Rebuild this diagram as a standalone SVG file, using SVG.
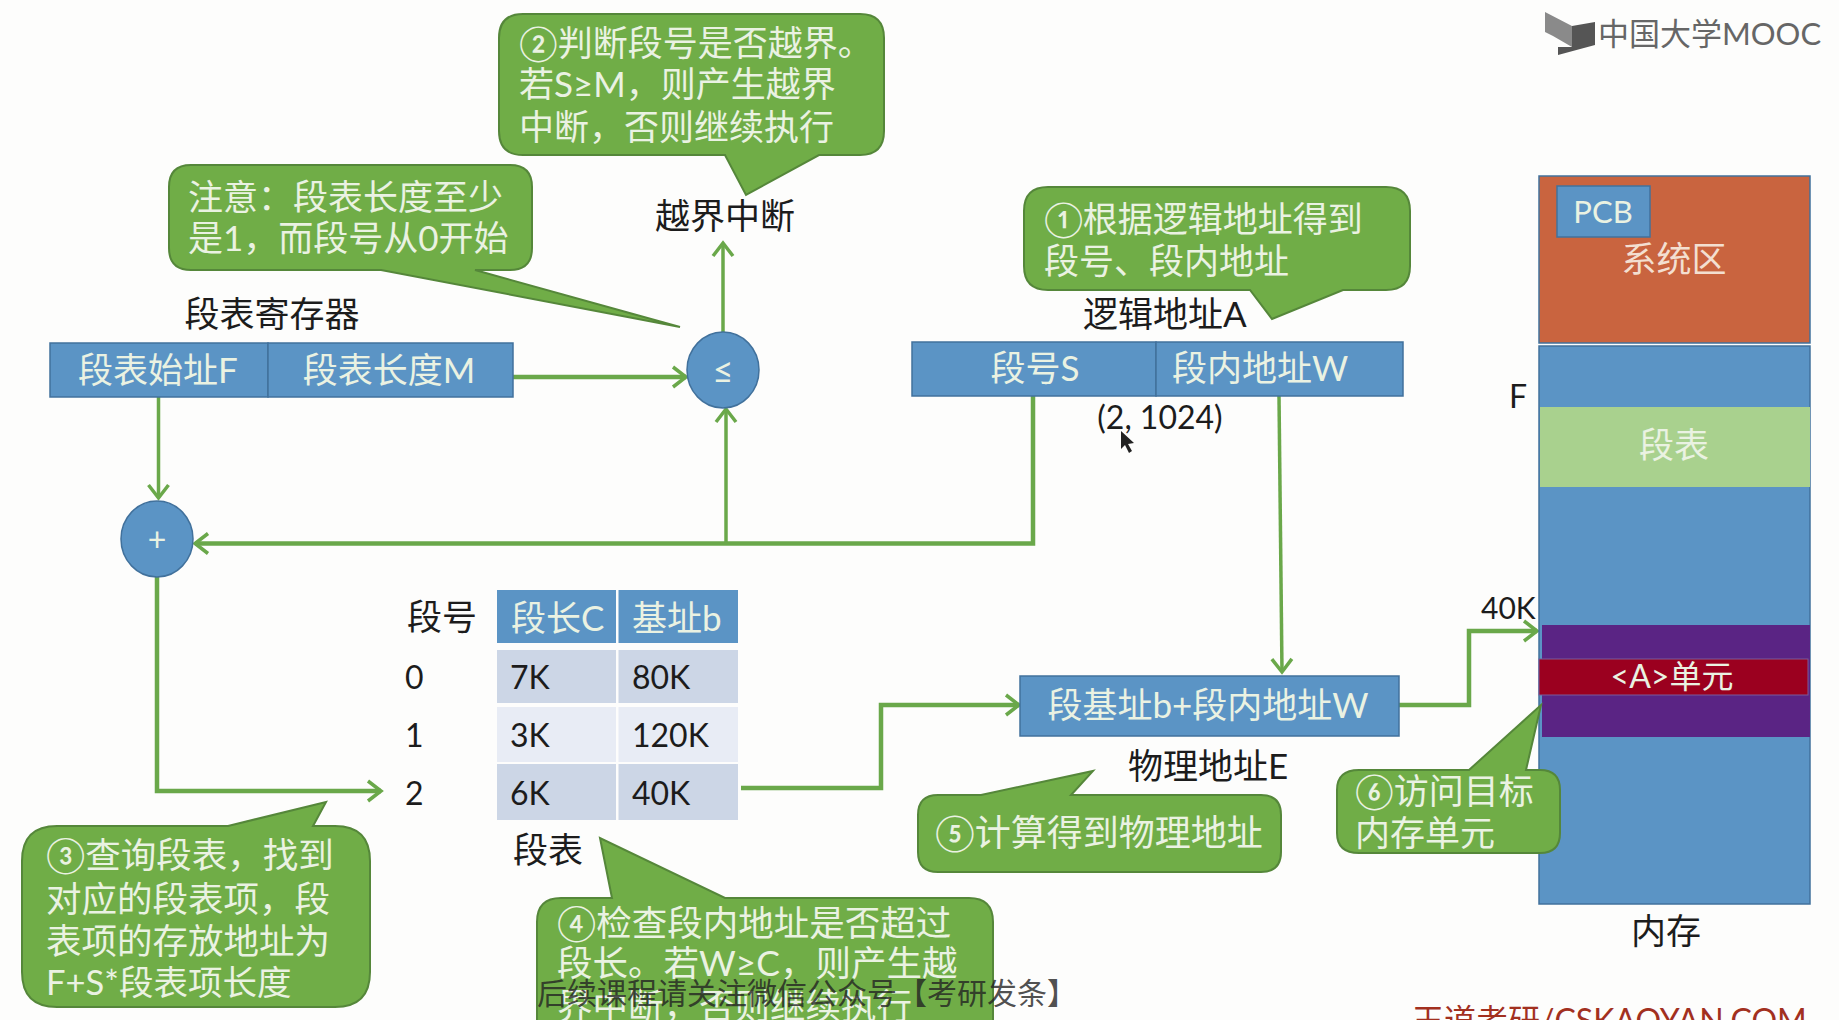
<svg xmlns="http://www.w3.org/2000/svg" width="1839" height="1020" viewBox="0 0 1839 1020">
<style>
text{font-family:Lato,"Noto Sans CJK SC","Noto Sans",sans-serif;font-size:35px;transform:translateY(1px)}
.k{fill:#1c1c1c}
.w{fill:#eaf2e2}
.m{text-anchor:middle}
.b{fill:#5b94c5;stroke:#41719c;stroke-width:1.5}
.c{fill:#70ad47;stroke:#55873a;stroke-width:2}
.a{fill:none;stroke:#6aa84a;stroke-width:3.5;marker-end:url(#ah)}
.h{stroke-width:4.5}
</style>
<defs>
<marker id="ah" markerUnits="userSpaceOnUse" markerWidth="24" markerHeight="28" refX="19" refY="12" orient="auto">
<path d="M6,2 L19,12 L6,22" fill="none" stroke="#6aa84a" stroke-width="3.5"/>
</marker>
</defs>
<rect width="1839" height="1020" fill="#fdfdfc"/>

<g id="connectors">
<path class="a" d="M723,332 V243"/>
<path class="a h" d="M513,377 H686"/>
<path class="a" d="M158.500,397 V498"/>
<path class="a h" d="M1033,396 V543.500 H195"/>
<path class="a" d="M726,543 V409"/>
<path class="a" d="M1279,396 L1282,672"/>
<path class="a h" d="M157,577 V791 H381"/>
<path class="a h" d="M741,788 H881 V705 H1019"/>
<path class="a h" d="M1399,705 H1469 V631 H1537"/>
</g>

<g id="logo">
<path d="M1545,12 L1572,26 V47 L1553,36 L1545,32Z" fill="#8a8a8a"/>
<path d="M1572,26 L1595,22 V45 L1558,55 L1558,47 L1572,47Z" fill="#555"/>
<text x="1598" y="44" fill="#666" style="font-size:31px">中国大学MOOC</text>
</g>

<g id="callout-2">
<path class="c" d="M523,14 H860 Q884,14 884,38 V131 Q884,155 860,155 H819 L746,195 L725,155 H523 Q499,155 499,131 V38 Q499,14 523,14Z"/>
<text class="w" x="519" y="55">②判断段号是否越界。</text>
<text class="w" x="519" y="96">若S≥M，则产生越界</text>
<text class="w" x="519" y="139">中断，否则继续执行</text>
</g>

<g id="callout-note">
<path class="c" d="M191,165 H510 Q532,165 532,187 V248 Q532,270 510,270 H475 L680,327 L381,270 H191 Q169,270 169,248 V187 Q169,165 191,165Z"/>
<text class="w" x="188" y="209">注意：段表长度至少</text>
<text class="w" x="188" y="250">是1，而段号从0开始</text>
</g>

<g id="overflow-label"><text class="k m" x="725" y="228">越界中断</text></g>

<g id="register">
<text class="k m" x="272" y="326">段表寄存器</text>
<rect class="b" x="50" y="343" width="218" height="54"/>
<rect class="b" x="268" y="343" width="245" height="54"/>
<text class="w m" x="158" y="382">段表始址F</text>
<text class="w m" x="389" y="382">段表长度M</text>
</g>

<g id="compare">
<ellipse class="b" cx="723" cy="370" rx="36" ry="38"/>
<text class="w m" x="723" y="382" style="font-size:36px">≤</text>
</g>

<g id="adder">
<ellipse class="b" cx="157" cy="539" rx="36" ry="38"/>
<text class="w m" x="157" y="550" style="font-size:32px">+</text>
</g>

<g id="callout-1">
<path class="c" d="M1048,187 H1386 Q1410,187 1410,211 V266 Q1410,290 1386,290 H1343 L1272,319 L1250,290 H1048 Q1024,290 1024,266 V211 Q1024,187 1048,187Z"/>
<text class="w" x="1044" y="231">①根据逻辑地址得到</text>
<text class="w" x="1044" y="273">段号、段内地址</text>
</g>

<g id="logical-address">
<text class="k" x="1083" y="326">逻辑地址A</text>
<rect class="b" x="912" y="342" width="244" height="54"/>
<rect class="b" x="1156" y="342" width="247" height="54"/>
<text class="w m" x="1035" y="380">段号S</text>
<text class="w m" x="1260" y="380">段内地址W</text>
<text class="k m" x="1160" y="428" style="font-size:32px">(2, 1024)</text>
<path d="M1121,431 L1121,449 L1125,445 L1129,453 L1132,451 L1128,444 L1134,443Z" fill="#222"/>
</g>

<g id="segment-table">
<text class="k" x="407" y="629">段号</text>
<rect x="497" y="590" width="119" height="53" fill="#5b94c5"/>
<rect x="618.500" y="590" width="119.500" height="53" fill="#5b94c5"/>
<text class="w" x="511" y="630">段长C</text>
<text class="w" x="632" y="630">基址b</text>
<rect x="497" y="650" width="119" height="53" fill="#ccd6e6"/>
<rect x="618.500" y="650" width="119.500" height="53" fill="#ccd6e6"/>
<rect x="497" y="707" width="119" height="55" fill="#e8ecf5"/>
<rect x="618.500" y="707" width="119.500" height="55" fill="#e8ecf5"/>
<rect x="497" y="764" width="119" height="56" fill="#ccd6e6"/>
<rect x="618.500" y="764" width="119.500" height="56" fill="#ccd6e6"/>
<text class="k" x="405" y="688" style="font-size:32px">0</text>
<text class="k" x="405" y="746" style="font-size:32px">1</text>
<text class="k" x="405" y="804" style="font-size:32px">2</text>
<text class="k" x="510" y="688" style="font-size:32px">7K</text>
<text class="k" x="632" y="688" style="font-size:32px">80K</text>
<text class="k" x="510" y="746" style="font-size:32px">3K</text>
<text class="k" x="632" y="746" style="font-size:32px">120K</text>
<text class="k" x="510" y="804" style="font-size:32px">6K</text>
<text class="k" x="632" y="804" style="font-size:32px">40K</text>
<text class="k" x="513" y="862">段表</text>
</g>

<g id="physical-address">
<rect class="b" x="1020" y="676" width="379" height="60"/>
<text class="w m" x="1208" y="717">段基址b+段内地址W</text>
<text class="k" x="1128" y="778">物理地址E</text>
</g>

<g id="memory">
<rect x="1539" y="176" width="271" height="167" fill="#c9643f" stroke="#41719c" stroke-width="1.500"/>
<rect class="b" x="1557" y="186" width="93" height="51"/>
<text class="w m" x="1603" y="222" style="font-size:31px">PCB</text>
<text class="m" x="1674" y="271" fill="#f3dfd0">系统区</text>
<rect class="b" x="1539" y="346" width="271" height="558"/>
<rect x="1540" y="407" width="270" height="80" fill="#a9d18e"/>
<text class="w m" x="1674" y="457">段表</text>
<rect x="1542" y="625" width="268" height="112" fill="#5a2484"/>
<rect x="1539" y="659" width="269" height="36" fill="#9b001f" stroke="#7a5a9a" stroke-width="1"/>
<text class="w m" x="1672" y="687" style="font-size:32px">&lt;A&gt;单元</text>
<text class="k" x="1509" y="407" style="font-size:32px">F</text>
<text class="k" x="1481" y="618" style="font-size:30px">40K</text>
<text class="k m" x="1666" y="943">内存</text>
</g>

<g id="callout-3">
<path class="c" d="M57,826 H228 L326,802 L313,826 H335 Q370,826 370,861 V972 Q370,1007 335,1007 H57 Q22,1007 22,972 V861 Q22,826 57,826Z"/>
<text class="w" x="46" y="867" style="font-size:35.500px">③查询段表，找到</text>
<text class="w" x="46" y="911" style="font-size:35.500px">对应的段表项，段</text>
<text class="w" x="46" y="953" style="font-size:35.500px">表项的存放地址为</text>
<text class="w" x="46" y="994" style="font-size:34.500px">F+S*段表项长度</text>
</g>

<g id="callout-4">
<path class="c" d="M561,898 H612 L600,838 L725,898 H969 Q993,898 993,922 V1050 H537 V922 Q537,898 561,898Z"/>
<text class="w" x="557" y="935" style="font-size:35.500px">④检查段内地址是否超过</text>
<text class="w" x="557" y="975" style="font-size:35.500px">段长。若W≥C，则产生越</text>
<text class="w" x="557" y="1018" style="font-size:35.500px">界中断，否则继续执行</text>
</g>

<g id="callout-5">
<path class="c" d="M938,795 H981 L1093,771 L1071,795 H1261 Q1281,795 1281,815 V852 Q1281,872 1261,872 H938 Q918,872 918,852 V815 Q918,795 938,795Z"/>
<text class="w" x="935" y="845" style="font-size:36px">⑤计算得到物理地址</text>
</g>

<g id="callout-6">
<path class="c" d="M1359,770 H1469 L1541,705 L1526,770 H1540 Q1560,770 1560,790 V833 Q1560,853 1540,853 H1359 Q1337,853 1337,833 V790 Q1337,770 1359,770Z"/>
<text class="w" x="1355" y="803">⑥访问目标</text>
<text class="w" x="1355" y="845">内存单元</text>
</g>

<g id="watermarks">
<text x="537" y="1003" style="font-size:30px;font-family:'Liberation Serif','Noto Sans CJK SC',serif" fill="#222" fill-opacity=".8">后续课程请关注微信公众号【考研发条】</text>
<text x="1412" y="1031" style="font-size:32px" fill="#a2301f">王道考研/CSKAOYAN.COM</text>
</g>
</svg>
